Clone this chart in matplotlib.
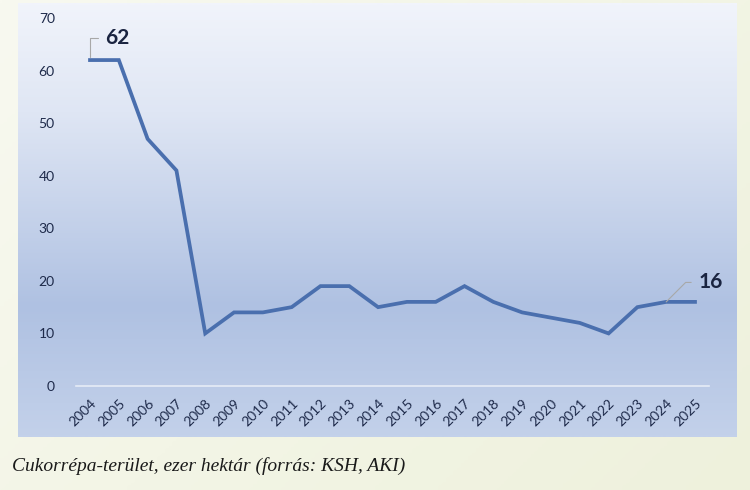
import numpy as np
import matplotlib
matplotlib.use("Agg")
import matplotlib.pyplot as plt
from matplotlib.colors import LinearSegmentedColormap

# cukorrepa terulet, ezer hektar
years = list(range(2004, 2026))
area = [62, 62, 47, 41, 10, 14, 14, 15, 19, 19, 15, 16, 16, 19, 16, 14, 13, 12, 10, 15, 16, 16]
caption = "Cukorrépa-terület, ezer hektár (forrás: KSH, AKI)"

W, H = 750, 490
fig = plt.figure(figsize=(W / 100, H / 100), dpi=100)

# outer background (pale cream, whiter on the left)
bg = fig.add_axes([0, 0, 1, 1])
bg.set_axis_off()
gx = np.linspace(0, 1, 200)[None, :]
gy = np.linspace(0, 1, 200)[:, None]
outer = LinearSegmentedColormap.from_list("outer", ["#f8f9f0", "#eef1dc"])
bg.imshow(0.6 * gx + 0.4 * gy, cmap=outer, aspect="auto",
          extent=[0, 1, 0, 1], vmin=0, vmax=1)
bg.set_xlim(0, 1)
bg.set_ylim(0, 1)

# chart panel gradient
px0, px1, py0, py1 = 18, 737, 3, 437
panel = fig.add_axes([px0 / W, 1 - py1 / H, (px1 - px0) / W, (py1 - py0) / H])
panel.set_axis_off()
pcm = LinearSegmentedColormap.from_list(
    "panel", [(0.0, "#f1f4fb"), (0.25, "#dfe6f4"), (0.7, "#afc1e2"), (1.0, "#c3d1ea")])
panel.imshow(np.linspace(0, 1, 300)[:, None], cmap=pcm, aspect="auto",
             extent=[0, 1, 0, 1], vmin=0, vmax=1)
panel.set_xlim(0, 1)
panel.set_ylim(0, 1)

# plot area
ax = fig.add_axes([75.6 / W, 1 - 386 / H, 633.8 / W, 368 / H])
ax.patch.set_alpha(0)
ax.plot(years, area, color="#4a6fae", lw=2.7, solid_joinstyle="miter", zorder=3)
ax.set_xlim(2003.5, 2025.5)
ax.set_ylim(0, 70)
for s in ["top", "right", "left"]:
    ax.spines[s].set_visible(False)
ax.spines["bottom"].set_color("#e6ecf6")
ax.spines["bottom"].set_linewidth(1.2)
ax.set_yticks(range(0, 71, 10))
ax.set_xticks(years)
ax.set_xticklabels([str(y) for y in years], rotation=45, ha="right",
                   rotation_mode="anchor")
ax.tick_params(axis="both", length=0, labelsize=10, labelcolor="#1e2a4a")
ax.tick_params(axis="y", pad=15)
ax.tick_params(axis="x", pad=8)
for lab in ax.get_xticklabels() + ax.get_yticklabels():
    lab.set_fontfamily("Lato")

tick_kw = dict(textcoords="offset points", fontsize=15, fontweight="bold",
               color="#1a2440", family="Lato", va="center")
ax.annotate(str(area[0]), xy=(years[0], area[0]), xytext=(11, 16), ha="left",
            arrowprops=dict(arrowstyle="-", color="#a8a8a8", lw=0.8,
                            connectionstyle="angle,angleA=0,angleB=90,rad=0",
                            shrinkA=3, shrinkB=2),
            **tick_kw)
ax.annotate(str(area[-1]), xy=(years[-2], area[-2]), xytext=(23, 14), ha="left",
            arrowprops=dict(arrowstyle="-", color="#a8a8a8", lw=0.8,
                            connectionstyle="angle,angleA=0,angleB=45,rad=0",
                            shrinkA=3, shrinkB=0),
            **tick_kw)

fig.text(12 / W, 1 - 466 / H, caption, fontsize=14, style="italic",
         family="Liberation Serif", color="#1a1a1a", va="center", ha="left")

fig.savefig("out.png", dpi=100)
